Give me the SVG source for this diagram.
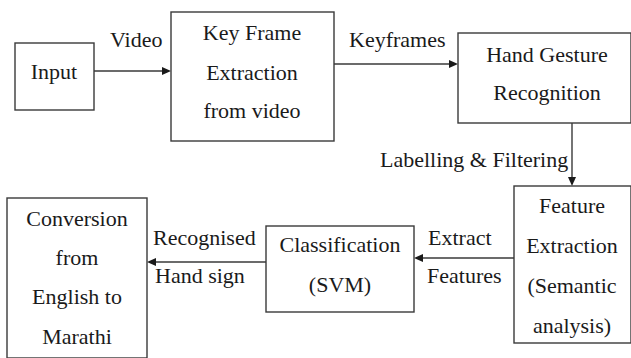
<svg xmlns="http://www.w3.org/2000/svg" width="631" height="358" viewBox="0 0 631 358">
  <style>
    .box { fill: #ffffff; stroke: #3a3a3a; stroke-width: 1.4; }
    .edge { fill: none; stroke: #3a3a3a; stroke-width: 1.4; }
    .head { fill: #1a1a1a; }
    .label { font-family: "Liberation Serif", serif; font-size: 22px; fill: #1a1a1a; }
    .c { text-anchor: middle; }
  </style>
  <rect width="631" height="358" fill="#ffffff"/>

  <g id="connectors">
    <path class="edge" d="M94,71 H163"/>
    <path class="head" d="M171,71 L162,67 L162,75 Z"/>
    <path class="edge" d="M334,64 H450"/>
    <path class="head" d="M458,64 L449,60 L449,68 Z"/>
    <path class="edge" d="M572,123 V178"/>
    <path class="head" d="M572,186 L568,177 L576,177 Z"/>
    <path class="edge" d="M514,258 H422"/>
    <path class="head" d="M414,258 L423,254 L423,262 Z"/>
    <path class="edge" d="M266,262 H155"/>
    <path class="head" d="M147,262 L156,258 L156,266 Z"/>
    <text class="label" x="110" y="47">Video</text>
    <text class="label" x="349" y="47">Keyframes</text>
    <text class="label" x="380" y="167">Labelling &amp; Filtering</text>
    <text class="label" x="428" y="245">Extract</text>
    <text class="label" x="427" y="283">Features</text>
    <text class="label" x="153" y="245">Recognised</text>
    <text class="label" x="155" y="283">Hand sign</text>
  </g>

  <g id="input">
    <rect class="box" x="15" y="43" width="79" height="67"/>
    <text class="label c" x="54" y="79">Input</text>
  </g>

  <g id="keyframe-extraction">
    <rect class="box" x="171" y="12" width="163" height="129"/>
    <text class="label c" x="252" y="40">Key Frame</text>
    <text class="label c" x="252" y="80">Extraction</text>
    <text class="label c" x="252" y="118">from video</text>
  </g>

  <g id="hand-gesture-recognition">
    <rect class="box" x="458" y="33" width="173" height="90"/>
    <text class="label c" x="547" y="62">Hand Gesture</text>
    <text class="label c" x="547" y="100">Recognition</text>
  </g>

  <g id="feature-extraction">
    <rect class="box" x="514" y="186" width="117" height="157"/>
    <text class="label c" x="572" y="213">Feature</text>
    <text class="label c" x="572" y="253">Extraction</text>
    <text class="label c" x="572" y="293">(Semantic</text>
    <text class="label c" x="572" y="333">analysis)</text>
  </g>

  <g id="classification">
    <rect class="box" x="266" y="226" width="148" height="86"/>
    <text class="label c" x="340" y="252">Classification</text>
    <text class="label c" x="340" y="292">(SVM)</text>
  </g>

  <g id="conversion">
    <rect class="box" x="7" y="198" width="140" height="160"/>
    <text class="label c" x="77" y="226">Conversion</text>
    <text class="label c" x="77" y="265">from</text>
    <text class="label c" x="77" y="304">English to</text>
    <text class="label c" x="77" y="344">Marathi</text>
  </g>
</svg>
